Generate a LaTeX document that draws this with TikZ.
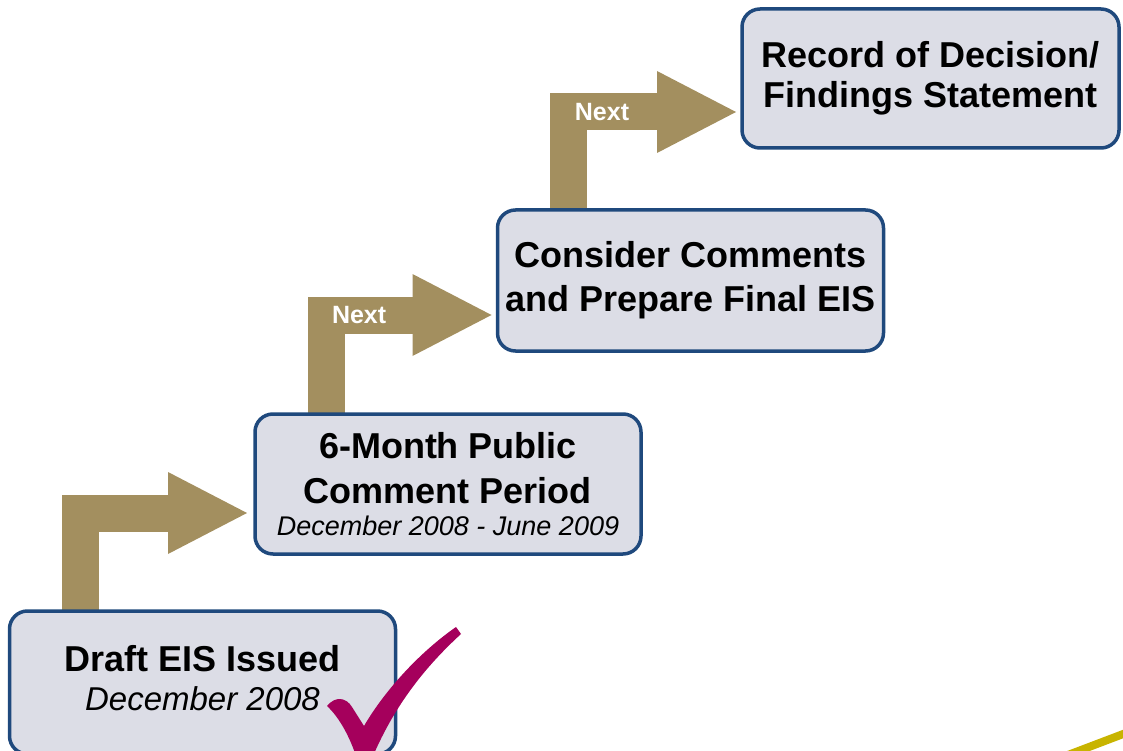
\documentclass[tikz,border=0pt]{standalone}
\usepackage{fontspec}
\setmainfont{Liberation Sans}
\usetikzlibrary{arrows.meta,backgrounds}

\definecolor{boxfill}{HTML}{DCDDE6}
\definecolor{boxline}{HTML}{1F497D}
\definecolor{steptan}{HTML}{A38F5F}
\definecolor{tickred}{HTML}{A5005C}
\definecolor{swoosh}{HTML}{C8B400}

\begin{document}
\begin{tikzpicture}[x=1pt,y=-1pt,
    stage/.style={draw=boxline,fill=boxfill,line width=3.5pt,rounded corners=18pt,
      align=center,inner sep=0pt,outer sep=0pt,minimum width=386pt,minimum height=140pt,
      font=\fontsize{36}{44}\selectfont\bfseries},
    bent/.style={draw=steptan,line width=37pt,line join=miter,
      -{Triangle[length=79pt,width=82pt,line width=0pt]}},
    nextlbl/.style={text=white,font=\fontsize{25}{30}\selectfont\bfseries}]
     \useasboundingbox (0,0) rectangle (1123,751);
     % the four stages
     \node[stage,minimum height=143pt] (draft) at (202.5,682.5)
       {Draft EIS Issued\\[-5pt]{\mdseries\itshape\fontsize{33}{40}\selectfont December 2008\rule[-10pt]{0pt}{10pt}}};
     \node[stage] (pub) at (448,484)
       {6-Month Public\\[1pt]Comment Period\\[-12pt]{\mdseries\itshape\fontsize{27}{32}\selectfont December 2008 - June 2009}};
     \node[stage,minimum height=141pt] (final) at (690.5,280.5) {Consider Comments\\and Prepare Final EIS};
     \node[stage,minimum width=377pt,minimum height=139pt] (rod) at (930.5,78.5) {Record of Decision/\\[-4pt]Findings Statement};
     % where the steps start and end
     \coordinate (a1s) at ([xshift=71pt,yshift=-4pt]draft.north west);
     \coordinate (a2s) at ([xshift=71pt,yshift=-4pt]pub.north west);
     \coordinate (a3s) at ([xshift=71pt,yshift=-4pt]final.north west);
     \coordinate (a1t) at ([xshift=-8pt,yshift=-29pt]pub.west);
     \coordinate (a2t) at ([xshift=-6pt,yshift=-34.5pt]final.west);
     \coordinate (a3t) at ([xshift=-6pt,yshift=-33.5pt]rod.west);
     \begin{scope}[on background layer]
       \draw[bent] (a1s) |- (a1t);
       \draw[bent] (a2s) |- node[nextlbl,pos=0.6] {Next} (a2t);
       \draw[bent] (a3s) |- node[nextlbl,pos=0.6] {Next} (a3t);
     \end{scope}
     % tick on the first stage
     \fill[tickred] (327,706) .. controls (335,696) and (346,697) .. (352,707)
       -- (364,726) .. controls (385,690) and (420,652) .. (456,627)
       -- (461,634) .. controls (425,667) and (395,705) .. (373,756)
       -- (356,756) .. controls (350,738) and (340,718) .. cycle;
     \draw[swoosh,line width=8pt] (1060,758) -- (1135,729.5);
\end{tikzpicture}
\end{document}
